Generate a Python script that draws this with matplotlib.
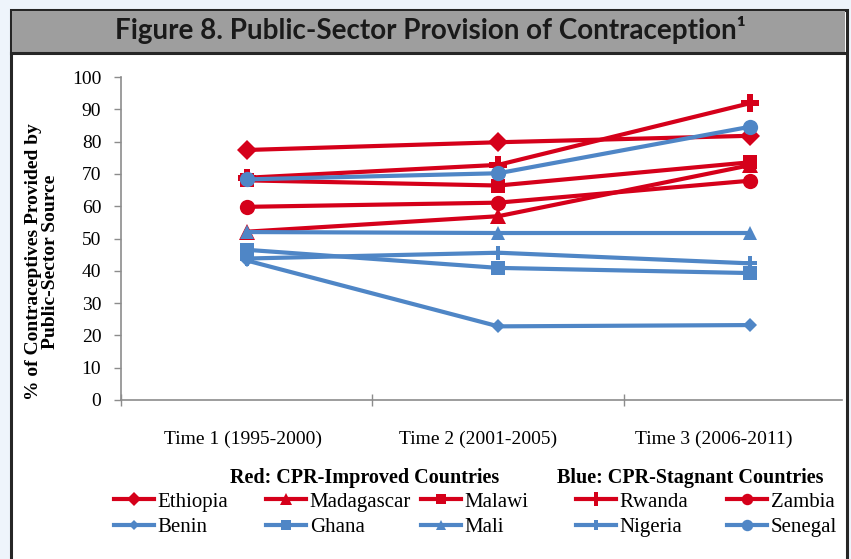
import matplotlib
matplotlib.use("Agg")
import matplotlib.pyplot as plt
from matplotlib.lines import Line2D
from matplotlib.patches import Rectangle

# periods on the x axis
periods = ["Time 1 (1995-2000)", "Time 2 (2001-2005)", "Time 3 (2006-2011)"]

# red: CPR-improved countries
improved = ["Ethiopia", "Madagascar", "Malawi", "Rwanda", "Zambia"]
ethiopia = [77.4, 79.8, 81.8]
madagascar = [52.1, 56.9, 72.7]
malawi = [68.0, 66.4, 73.6]
rwanda = [68.8, 72.8, 91.9]
zambia = [59.8, 61.1, 67.9]

# blue: CPR-stagnant countries
stagnant = ["Benin", "Ghana", "Mali", "Nigeria", "Senegal"]
benin = [43.2, 22.8, 23.2]
ghana = [46.5, 40.9, 39.3]
mali = [52.0, 51.7, 51.7]
nigeria = [43.8, 45.6, 42.3]
senegal = [68.3, 70.2, 84.6]

W, H = 851, 559
RED = "#D5001A"
BLUE = "#4F86C6"
SERIF = ["Liberation Serif", "DejaVu Serif"]

fig = plt.figure(figsize=(W / 100, H / 100), dpi=100)
fig.patch.set_facecolor("#EEF4FB")


def fx(px):
    return px / W


def fy(py):
    return 1 - py / H


# outer frame, white body and grey title band
fig.patches.append(Rectangle((fx(10.5), fy(575)), fx(836), 575 / H - 9.5 / H,
                             transform=fig.transFigure, facecolor="white",
                             edgecolor="#262626", linewidth=2.2, zorder=0))
fig.patches.append(Rectangle((fx(12), fy(52.5)), fx(833), 41.5 / H,
                             transform=fig.transFigure, facecolor="#9E9E9E",
                             edgecolor="none", zorder=1))
fig.lines.append(Line2D([fx(11), fx(846)], [fy(52.5), fy(52.5)],
                        transform=fig.transFigure, color="#262626", lw=2.2, zorder=2))
fig.text(fx(430), fy(30), "Figure 8. Public-Sector Provision of Contraception\u00b9",
         ha="center", va="center", fontsize=20, fontweight="bold",
         family=["Lato", "DejaVu Sans"], color="#1a1a1a")

ax = fig.add_axes([fx(120.7), fy(400), fx(842 - 120.7), (400 - 77) / H])
ax.set_facecolor("none")
ax.set_zorder(5)

x = list(range(len(periods)))
red_series = [(ethiopia, "D", 10), (madagascar, "^", 11), (malawi, "s", 10),
              (rwanda, "P", 13), (zambia, "o", 11)]
blue_series = [(benin, "D", 7), (ghana, "s", 10), (mali, "^", 10),
               (nigeria, "P", 10), (senegal, "o", 11)]

handles = {}
for name, (vals, mk, ms) in zip(improved, red_series):
    ln, = ax.plot(x, vals, color=RED, lw=3, marker=mk, markersize=ms,
                  markeredgewidth=0, label=name)
    handles[name] = ln
for name, (vals, mk, ms) in zip(stagnant, blue_series):
    ln, = ax.plot(x, vals, color=BLUE, lw=3, marker=mk, markersize=ms,
                  markeredgewidth=0, label=name)
    handles[name] = ln

ax.set_ylim(0, 100)
ax.set_xlim(-0.5, 2.365)
ax.set_yticks(range(0, 101, 10))
ax.tick_params(axis="y", direction="out", length=5, width=1, color="#8c8c8c",
               pad=9, labelsize=14)
for lab in ax.get_yticklabels():
    lab.set_family(SERIF)

# tick marks between categories, labels at their own spots
ax.set_xticks([-0.5, 0.5, 1.5])
ax.set_xticklabels([])
ax.tick_params(axis="x", which="major", direction="inout", length=8,
               width=1, color="#8c8c8c")
ax.set_xticks([-0.015, 0.918, 1.854], periods, minor=True)
ax.tick_params(axis="x", which="minor", length=0, pad=22, labelsize=14)
for lab in ax.get_xticklabels(minor=True):
    lab.set_family(SERIF)

for side in ["top", "right"]:
    ax.spines[side].set_visible(False)
for side in ["left", "bottom"]:
    ax.spines[side].set_color("#8c8c8c")
    ax.spines[side].set_linewidth(1.2)

fig.text(fx(42), fy(262), "% of Contraceptives Provided by\nPublic-Sector Source",
         rotation=90, ha="center", va="center", fontsize=14, fontweight="bold",
         family=SERIF, linespacing=0.95)

# legend headers
fig.text(fx(365), fy(478), "Red: CPR-Improved Countries", ha="center", va="center",
         fontsize=14.5, fontweight="bold", family=SERIF)
fig.text(fx(690), fy(478), "Blue: CPR-Stagnant Countries", ha="center", va="center",
         fontsize=14.5, fontweight="bold", family=SERIF)

# one small legend per column so the columns sit where they do in the original
col_x = [114, 266, 421, 576, 727]
for cx, r, b in zip(col_x, improved, stagnant):
    leg = fig.legend([handles[r], handles[b]], [r, b], loc="upper left",
                     bbox_to_anchor=(fx(cx), fy(492)), frameon=False,
                     prop={"family": SERIF, "size": 15}, handlelength=1.9,
                     handletextpad=0.2, labelspacing=0.3, borderpad=0,
                     borderaxespad=0, markerscale=0.75)
    leg.set_zorder(6)

fig.savefig("out.png", dpi=100, facecolor=fig.get_facecolor())
